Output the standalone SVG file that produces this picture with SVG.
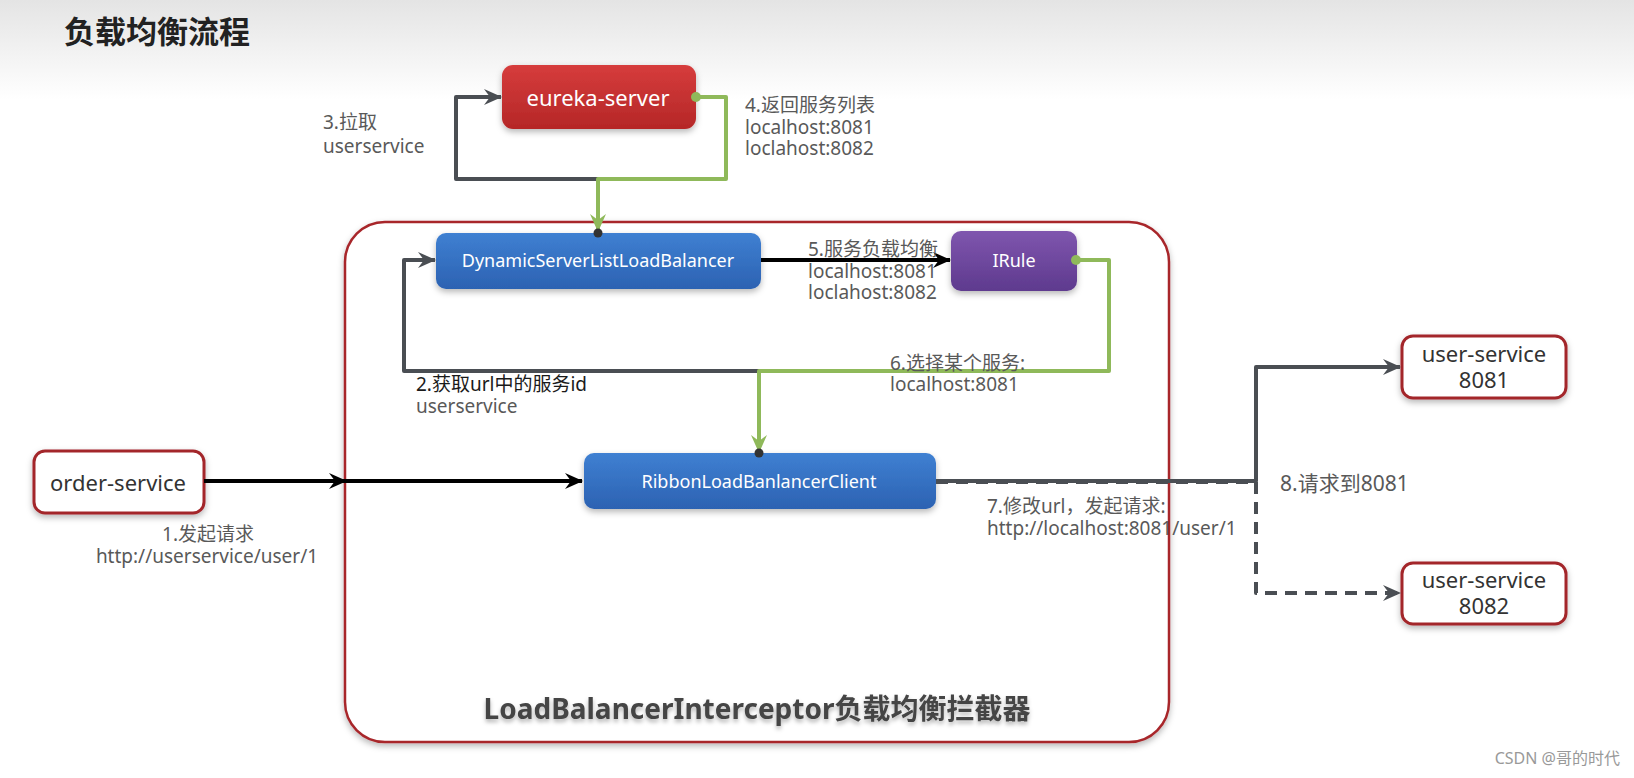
<svg xmlns="http://www.w3.org/2000/svg" width="1634" height="778" viewBox="0 0 1634 778">
<defs>
<linearGradient id="bg" x1="0" y1="0" x2="0" y2="1"><stop offset="0" stop-color="#e4e4e4"/><stop offset="1" stop-color="#ffffff"/></linearGradient>
<linearGradient id="gRed" x1="0" y1="0" x2="0" y2="1"><stop offset="0" stop-color="#d63c3c"/><stop offset="1" stop-color="#b52727"/></linearGradient>
<linearGradient id="gBlue" x1="0" y1="0" x2="0" y2="1"><stop offset="0" stop-color="#3f80d2"/><stop offset="1" stop-color="#2c62b2"/></linearGradient>
<linearGradient id="gPurple" x1="0" y1="0" x2="0" y2="1"><stop offset="0" stop-color="#7f56ae"/><stop offset="1" stop-color="#5e3a8e"/></linearGradient>
<filter id="sh" x="-10%" y="-20%" width="120%" height="150%"><feDropShadow dx="0" dy="3" stdDeviation="3" flood-color="#000" flood-opacity="0.28"/></filter>
<filter id="tsh" x="-5%" y="-30%" width="110%" height="180%"><feDropShadow dx="0" dy="3" stdDeviation="2" flood-color="#000" flood-opacity="0.3"/></filter>
<marker id="aDark" viewBox="0 0 18 16" refX="17" refY="8" markerWidth="18" markerHeight="16" markerUnits="userSpaceOnUse" orient="auto"><path d="M0,0 L18,8 L0,16 L6,8 Z" fill="#4a4e53"/></marker>
<marker id="aBlack" viewBox="0 0 18 16" refX="17" refY="8" markerWidth="18" markerHeight="16" markerUnits="userSpaceOnUse" orient="auto"><path d="M0,0 L18,8 L0,16 L6,8 Z" fill="#000"/></marker>
<marker id="aGreen" viewBox="0 0 18 16" refX="17" refY="8" markerWidth="18" markerHeight="16" markerUnits="userSpaceOnUse" orient="auto"><path d="M0,0 L18,8 L0,16 L6,8 Z" fill="#8fb95a"/></marker>
<style>
text{font-family:"Noto Sans","Noto Sans CJK SC",sans-serif;}
.lbl{font-size:19px;fill:#595959;}
.dark{fill:#1a1a1a;}
.ntw{font-size:18px;fill:#fff;text-anchor:middle;dominant-baseline:central;}
.ntb{font-size:22px;fill:#333;text-anchor:middle;dominant-baseline:central;}
.wbox{fill:#fff;stroke:#a3262a;stroke-width:3;}
.cd{fill:none;stroke:#4a4e53;stroke-width:4;stroke-linejoin:round;}
.cg{fill:none;stroke:#8fb95a;stroke-width:4;stroke-linejoin:round;}
.cb{fill:none;stroke:#000;stroke-width:4;}
.dash{stroke-dasharray:12 8;}
</style>
</defs>
<rect x="0" y="0" width="1634" height="100" fill="url(#bg)"/>
<text x="64" y="43" font-size="31" font-weight="bold" fill="#222" style="font-family:'Noto Sans CJK SC',sans-serif">负载均衡流程</text>

<g id="container">
<rect x="345" y="222" width="824" height="520" rx="40" fill="#fff" stroke="#a8282c" stroke-width="2.5" filter="url(#sh)"/>
<text x="757" y="719" font-size="28" font-weight="bold" fill="#444" text-anchor="middle" filter="url(#tsh)">LoadBalancerInterceptor负载均衡拦截器</text>
</g>

<g id="eureka-server">
<rect x="502" y="65" width="194" height="64" rx="11" fill="url(#gRed)" filter="url(#sh)"/>
<text x="598" y="97" class="ntw" style="font-size:22px">eureka-server</text>
</g>
<g id="dynamic-lb">
<rect x="436" y="233" width="325" height="56" rx="10" fill="url(#gBlue)" filter="url(#sh)"/>
<text x="598" y="260" class="ntw">DynamicServerListLoadBalancer</text>
</g>
<g id="irule">
<rect x="951" y="231" width="126" height="60" rx="10" fill="url(#gPurple)" filter="url(#sh)"/>
<text x="1014" y="260" class="ntw">IRule</text>
</g>
<g id="ribbon-client">
<rect x="584" y="453" width="352" height="56" rx="10" fill="url(#gBlue)" filter="url(#sh)"/>
<text x="759" y="481" class="ntw">RibbonLoadBanlancerClient</text>
</g>
<g id="order-service">
<rect x="34" y="451" width="170" height="62" rx="11" class="wbox" filter="url(#sh)"/>
<text x="118" y="482" class="ntb">order-service</text>
</g>
<g id="user-service-8081">
<rect x="1402" y="336" width="164" height="62" rx="11" class="wbox" filter="url(#sh)"/>
<text x="1484" y="353" class="ntb">user-service</text>
<text x="1484" y="379" class="ntb">8081</text>
</g>
<g id="user-service-8082">
<rect x="1402" y="563" width="164" height="61" rx="11" class="wbox" filter="url(#sh)"/>
<text x="1484" y="579" class="ntb">user-service</text>
<text x="1484" y="605" class="ntb">8082</text>
</g>

<g id="connectors">
<path class="cd" d="M598,232 V179 H456 V97 H501" marker-end="url(#aDark)"/>
<path class="cg" d="M696,97 H726 V179 H598 V231" marker-end="url(#aGreen)"/>
<circle cx="696" cy="97" r="5" fill="#8fb95a"/>
<circle cx="598" cy="233" r="4.5" fill="#333"/>

<path class="cb" d="M761,260 H950" marker-end="url(#aBlack)"/>

<path class="cd" d="M759,453 V371 H404 V260 H435" marker-end="url(#aDark)"/>
<path class="cg" d="M1076,260 H1109 V371 H759 V452" marker-end="url(#aGreen)"/>
<circle cx="1076" cy="260" r="5" fill="#8fb95a"/>
<circle cx="759" cy="453" r="4.5" fill="#333"/>

<path class="cb" d="M204,481 H346" marker-end="url(#aBlack)"/>
<path class="cb" d="M346,481 H582" marker-end="url(#aBlack)"/>

<path class="cd" d="M936,481 H1256 V367 H1400" marker-end="url(#aDark)"/>
<path class="cd dash" d="M936,482 H1256 V593 H1400" marker-end="url(#aDark)"/>
</g>

<g id="labels">
<text class="lbl" x="323" y="129">3.拉取</text>
<text class="lbl" x="323" y="153">userservice</text>
<text class="lbl" x="745" y="112">4.返回服务列表</text>
<text class="lbl" x="745" y="134">localhost:8081</text>
<text class="lbl" x="745" y="155">loclahost:8082</text>
<text class="lbl" x="808" y="256">5.服务负载均衡</text>
<text class="lbl" x="808" y="278">localhost:8081</text>
<text class="lbl" x="808" y="299">loclahost:8082</text>
<text class="lbl" x="890" y="370">6.选择某个服务:</text>
<text class="lbl" x="890" y="391">localhost:8081</text>
<text class="lbl dark" x="416" y="391">2.获取url中的服务id</text>
<text class="lbl" x="416" y="413">userservice</text>
<text class="lbl" x="208" y="541" text-anchor="middle">1.发起请求</text>
<text class="lbl" x="207" y="563" text-anchor="middle">http://userservice/user/1</text>
<text class="lbl" x="987" y="513">7.修改url，发起请求:</text>
<text class="lbl" x="987" y="535">http://localhost:8081/user/1</text>
<text class="lbl" x="1280" y="491" style="font-size:21px">8.请求到8081</text>
</g>
<text x="1620" y="764" font-size="16" fill="#999" text-anchor="end">CSDN @哥的时代</text>
</svg>
